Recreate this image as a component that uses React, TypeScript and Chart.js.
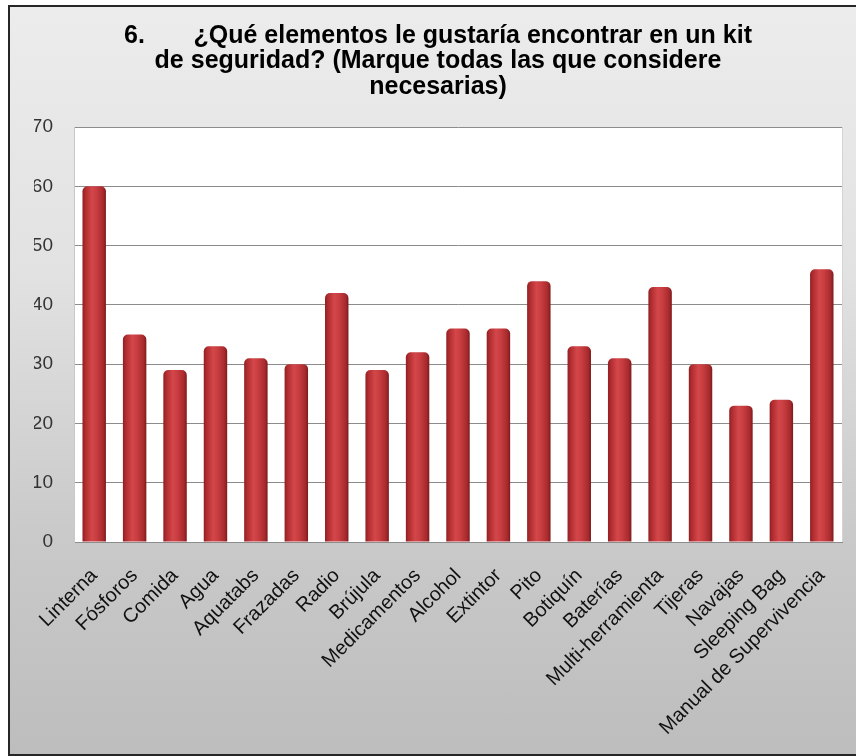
import React, { useEffect, useRef } from "react";
import { Chart, registerables } from "chart.js";

Chart.register(...registerables);

const categories = [
  "Linterna",
  "Fósforos",
  "Comida",
  "Agua",
  "Aquatabs",
  "Frazadas",
  "Radio",
  "Brújula",
  "Medicamentos",
  "Alcohol",
  "Extintor",
  "Pito",
  "Botiquín",
  "Baterías",
  "Multi-herramienta",
  "Tijeras",
  "Navajas",
  "Sleeping Bag",
  "Manual de Supervivencia",
];

const values = [60, 35, 29, 33, 31, 30, 42, 29, 32, 36, 36, 44, 33, 31, 43, 30, 23, 24, 46];

const titleLines = [
  "6.       ¿Qué elementos le gustaría encontrar en un kit",
  "de seguridad? (Marque todas las que considere",
  "necesarias)",
];

const yMin = 0;
const yMax = 70;
const yStep = 10;

const FONT = "'Liberation Sans', Arial, sans-serif";
const BAR_PCT = 0.58;

const plotBackground = {
  id: "plotBackground",
  beforeDraw(chart: any) {
    const { ctx, chartArea } = chart;
    if (!chartArea) return;
    ctx.save();
    ctx.fillStyle = "#ffffff";
    ctx.fillRect(chartArea.left, chartArea.top, chartArea.right - chartArea.left, chartArea.bottom - chartArea.top);
    ctx.strokeStyle = "#d4d4d4";
    ctx.lineWidth = 1;
    ctx.beginPath();
    ctx.moveTo(chartArea.right + 0.5, chartArea.top);
    ctx.lineTo(chartArea.right + 0.5, chartArea.bottom);
    ctx.stroke();
    ctx.restore();
  },
};

function barFill(context: any) {
  const chart = context.chart;
  const xs = chart.scales && chart.scales.x;
  if (!xs || !chart.chartArea) return "#c0373a";
  const i = context.dataIndex;
  const cx = xs.getPixelForValue(i);
  const catW = (chart.chartArea.right - chart.chartArea.left) / categories.length;
  const w = catW * BAR_PCT;
  const g = chart.ctx.createLinearGradient(cx - w / 2, 0, cx + w / 2, 0);
  g.addColorStop(0, "#8e1f22");
  g.addColorStop(0.12, "#b02c2f");
  g.addColorStop(0.4, "#d3474a");
  g.addColorStop(0.6, "#c83d40");
  g.addColorStop(0.88, "#a72a2d");
  g.addColorStop(1, "#7f191c");
  return g;
}

export default function App() {
  const canvasRef = useRef<HTMLCanvasElement | null>(null);

  useEffect(() => {
    if (!canvasRef.current) return;
    const chart = new Chart(canvasRef.current, {
      type: "bar",
      data: {
        labels: categories,
        datasets: [
          {
            data: values,
            backgroundColor: barFill as any,
            borderWidth: 0,
            borderRadius: { topLeft: 5, topRight: 5, bottomLeft: 0, bottomRight: 0 },
            borderSkipped: false,
            barPercentage: BAR_PCT,
            categoryPercentage: 1,
          },
        ],
      },
      options: {
        animation: false,
        responsive: false,
        maintainAspectRatio: false,
        layout: { padding: { left: 34, right: 14, top: 0, bottom: 0 } },
        plugins: {
          legend: { display: false },
          tooltip: { enabled: false },
          title: {
            display: true,
            text: titleLines,
            color: "#000000",
            font: { family: FONT, size: 25, weight: "bold", lineHeight: 1.02 },
            padding: { top: 23, bottom: 27.5 },
          },
        },
        scales: {
          x: {
            grid: { display: false, drawTicks: false },
            border: { display: true, color: "#8c8c8c" },
            ticks: {
              maxRotation: 45,
              minRotation: 45,
              autoSkip: false,
              color: "#111111",
              padding: 22,
              font: { family: FONT, size: 20 },
            },
            afterFit(scale: any) {
              scale.height = 214;
              scale.paddingLeft = 0;
              scale.paddingRight = 0;
            },
          },
          y: {
            min: yMin,
            max: yMax,
            grid: { color: "#8c8c8c", lineWidth: 1, drawTicks: false },
            border: { display: true, color: "#c8c8c8" },
            ticks: {
              stepSize: yStep,
              color: "#333333",
              padding: 21,
              font: { family: FONT, size: 19 },
            },
            afterFit(scale: any) {
              scale.width = 40;
              scale.paddingTop = 0;
              scale.paddingBottom = 0;
            },
          },
        },
      },
      plugins: [plotBackground],
    });
    return () => chart.destroy();
  }, []);

  return (
    <div style={{ position: "absolute", left: 0, top: 0, width: 856, height: 756, overflow: "hidden" }}>
      <div
        style={{
          position: "absolute",
          left: 8,
          top: 5,
          width: 860,
          height: 747,
          border: "2px solid #262626",
          background: "linear-gradient(to bottom, #ececec 0%, #e2e2e2 35%, #cacaca 70%, #bdbdbd 100%)",
        }}
      />
      <canvas ref={canvasRef} width={856} height={756} style={{ position: "absolute", left: 0, top: 0 }} />
    </div>
  );
}
